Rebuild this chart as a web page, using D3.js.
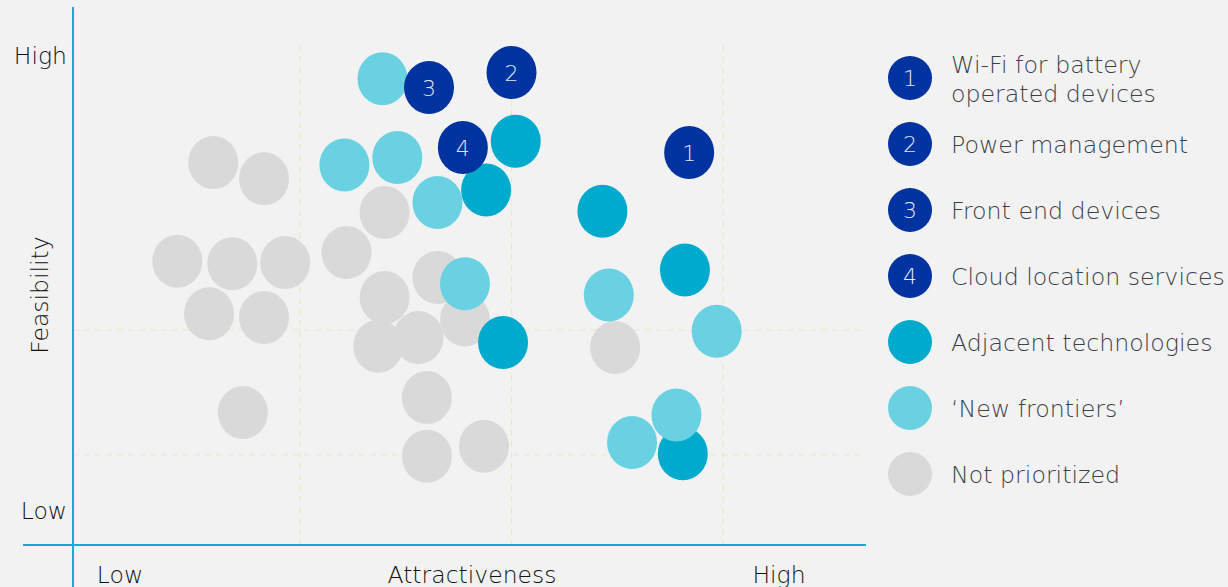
<!DOCTYPE html>
<html><head><meta charset="utf-8">
<script src="https://cdn.jsdelivr.net/npm/d3@7"></script>
<style>
html,body{margin:0;padding:0;background:#f2f2f2;}
svg{display:block;font-family:"DejaVu Sans",sans-serif;font-weight:200;}
</style></head>
<body><svg id="c" width="1228" height="587"></svg>
<script>
// ---- data ----
const priorityLabels = ["1","2","3","4"];
const priorityX = [2.84, 2.00, 1.61, 1.77];
const priorityY = [3.42, 4.06, 3.94, 3.46];

const adjacentX = [2.02, 1.88, 2.43, 2.82, 1.96, 2.81];
const adjacentY = [3.51, 3.12, 2.95, 2.48, 1.90, 1.01];

const frontierX = [1.39, 1.21, 1.46, 1.65, 1.78, 2.46, 2.97, 2.78, 2.57];
const frontierY = [4.01, 3.32, 3.38, 3.02, 2.37, 2.28, 1.99, 1.32, 1.10];

const notPrioX = [0.59, 0.83, 0.42, 0.68, 0.93, 0.57, 0.83, 0.73, 1.40, 1.22, 1.40, 1.65, 1.37, 1.56, 1.78, 1.60, 1.60, 1.87, 2.49];
const notPrioY = [3.34, 3.21, 2.55, 2.53, 2.54, 2.13, 2.10, 1.34, 2.94, 2.62, 2.26, 2.42, 1.87, 1.94, 2.08, 1.46, 0.99, 1.07, 1.86];

const gridX = [1, 2, 3];
const gridY = [1, 2];

const xTickLabels = ["Low", "Attractiveness", "High"];
const yTickLabels = ["High", "Low"];

const legendNumbers = ["1","2","3","4"];
const legendLabels = [
  ["Wi-Fi for battery","operated devices"],
  ["Power management"],
  ["Front end devices"],
  ["Cloud location services"],
  ["Adjacent technologies"],
  ["\u2018New frontiers\u2019"],
  ["Not prioritized"]
];

// ---- styles ----
const C_DARK = "#0033a0", C_ADJ = "#00aacd", C_NEW = "#69d1e1", C_NOT = "#d9d9d9";
const legendColors = [C_DARK, C_DARK, C_DARK, C_DARK, C_ADJ, C_NEW, C_NOT];
const AXIS = "#1ba9cc", GRID = "#e6e9c6";

const svg = d3.select("#c");
const x = d3.scaleLinear().domain([0, 4]).range([88.5, 934.5]);
const y = d3.scaleLinear().domain([0, 4]).range([580, 80]);

const left = 73, right = 866, bottom = 545, gridTop = 45;

// grid
svg.append("g").selectAll("line").data(gridX).join("line")
  .attr("x1", d => x(d)).attr("x2", d => x(d))
  .attr("y1", gridTop).attr("y2", bottom)
  .attr("stroke", GRID).attr("stroke-width", 1.2).attr("stroke-dasharray", "6,5");
svg.append("g").selectAll("line").data(gridY).join("line")
  .attr("x1", left).attr("x2", right)
  .attr("y1", d => y(d)).attr("y2", d => y(d))
  .attr("stroke", GRID).attr("stroke-width", 1.2).attr("stroke-dasharray", "6,5");

// axes
svg.append("line").attr("x1", left).attr("x2", left).attr("y1", 7).attr("y2", 587)
  .attr("stroke", AXIS).attr("stroke-width", 2);
svg.append("line").attr("x1", 23).attr("x2", right).attr("y1", bottom).attr("y2", bottom)
  .attr("stroke", AXIS).attr("stroke-width", 2);

// axis texts
const FS = 23.5;
const TXT = "#111";
const xLabPos = [120, 472, 779];
svg.append("g").selectAll("text").data(xTickLabels).join("text")
  .attr("x", (d, i) => xLabPos[i]).attr("y", 583)
  .attr("text-anchor", "middle").attr("font-size", FS).attr("fill", TXT)
  .text(d => d);
const yLabPos = [64, 519];
svg.append("g").selectAll("text").data(yTickLabels).join("text")
  .attr("x", 67).attr("y", (d, i) => yLabPos[i])
  .attr("text-anchor", "end").attr("font-size", FS).attr("fill", TXT)
  .text(d => d);
svg.append("text").attr("transform", "translate(48,295) rotate(-90)")
  .attr("text-anchor", "middle").attr("font-size", FS).attr("fill", TXT)
  .text("Feasibility");

// bubbles
const RX = 25, RY = 26.5;
function layer(xs, ys, color) {
  svg.append("g").selectAll("ellipse").data(xs.map((v, i) => [v, ys[i]])).join("ellipse")
    .attr("cx", d => x(d[0])).attr("cy", d => y(d[1]))
    .attr("rx", RX).attr("ry", RY).attr("fill", color);
}
layer(notPrioX, notPrioY, C_NOT);
layer(adjacentX, adjacentY, C_ADJ);
layer(frontierX, frontierY, C_NEW);
layer(priorityX, priorityY, C_DARK);
svg.append("g").selectAll("text").data(priorityLabels).join("text")
  .attr("x", (d, i) => x(priorityX[i])).attr("y", (d, i) => y(priorityY[i]) + 8)
  .attr("text-anchor", "middle").attr("font-size", 22)
  .attr("fill", "#dfe5f3").text(d => d);

// legend
const lg = svg.append("g");
const LY0 = 78, LDY = 66;
legendLabels.forEach((lines, i) => {
  const cy = LY0 + i * LDY;
  lg.append("circle").attr("cx", 910).attr("cy", cy).attr("r", 22).attr("fill", legendColors[i]);
  if (i < legendNumbers.length) {
    lg.append("text").attr("x", 910).attr("y", cy + 8).attr("text-anchor", "middle")
      .attr("font-size", 22).attr("fill", "#dfe5f3").text(legendNumbers[i]);
  }
  const t = lg.append("text").attr("x", 951).attr("font-size", 23.7).attr("fill", "#3c4148");
  if (lines.length === 1) {
    t.attr("y", cy + 8.5).text(lines[0]);
  } else {
    lines.forEach((ln, j) => t.append("tspan").attr("x", 951).attr("y", cy - 5.5 + j * 29).text(ln));
  }
});
</script></body></html>
